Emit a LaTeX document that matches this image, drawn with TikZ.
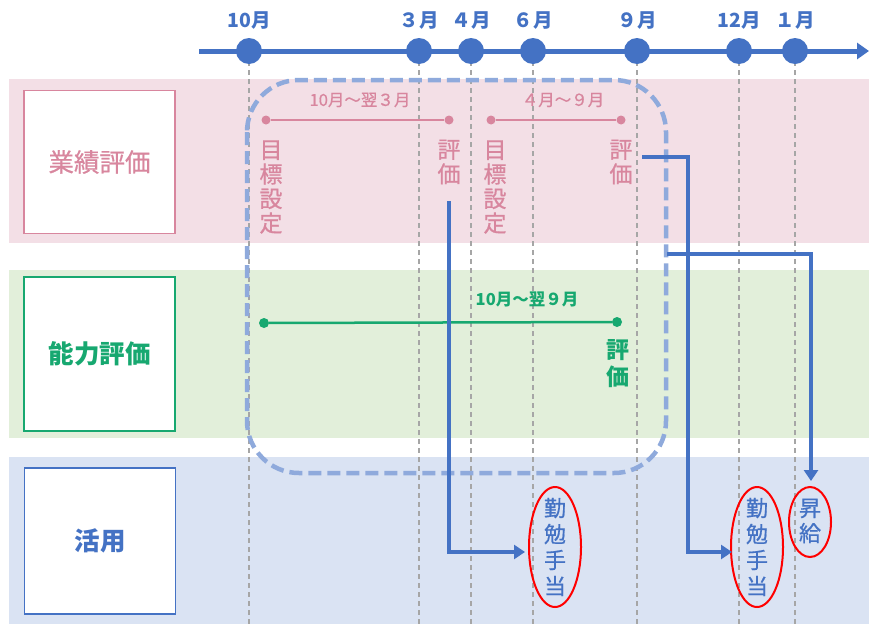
\documentclass[tikz,border=0pt]{standalone}
\usepackage{fontspec}
\setmainfont{Noto Sans CJK JP}
\newfontfamily\jpm{Noto Sans CJK JP}[FakeBold=0.7]
\usetikzlibrary{arrows.meta,shapes.geometric}
\definecolor{tblue}{HTML}{4472C4}
\definecolor{lblue}{HTML}{8FAADC}
\definecolor{pinkc}{HTML}{D8869E}
\definecolor{pinkband}{HTML}{F3DFE6}
\definecolor{greenc}{HTML}{17A870}
\definecolor{greenband}{HTML}{E2EFDA}
\definecolor{blueband}{HTML}{DAE3F3}
\definecolor{gridgray}{HTML}{A6A6A6}
\begin{document}
\begin{tikzpicture}[x=1pt,y=-1pt,
  month/.style={font=\fontsize{19.5}{22}\selectfont\bfseries, text=tblue, inner sep=0pt},
  mdot/.style={circle, fill=tblue, minimum size=26pt, inner sep=0pt},
  gridline/.style={draw=gridgray, line width=1.1pt, dash pattern=on 5pt off 4pt},
  lbox/.style={draw, fill=white, line width=1.8pt, minimum width=151pt, minimum height=143pt, inner sep=0pt, font=\jpm\fontsize{25.5}{28}\selectfont},
  vtext/.style={align=center, inner sep=0pt, font=\jpm\fontsize{23}{24.5}\selectfont},
  rangelab/.style={inner sep=0pt, font=\jpm\fontsize{16.5}{19}\selectfont},
  pdot/.style={circle, fill=pinkc, minimum size=9pt, inner sep=0pt},
  gdot/.style={circle, fill=greenc, minimum size=10pt, inner sep=0pt},
  conn/.style={draw=tblue, line width=4.2pt, miter limit=10, -{Triangle[length=11pt,width=14pt]}},
  redell/.style={ellipse, draw=red, line width=2pt, inner sep=0pt}
]
\useasboundingbox (0,0) rectangle (869,624);
\fill[white] (0,0) rectangle (869,624);
% bands
\fill[pinkband] (9,79) rectangle (869,243);
\fill[greenband] (9,270) rectangle (869,438);
\fill[blueband] (9,457) rectangle (869,624);
% left boxes
\node[lbox, draw=pinkc, text=pinkc] (b1) at (99.5,162) {業績評価};
\node[lbox, draw=greenc, text=greenc, minimum height=154pt, font=\fontsize{25.5}{28}\selectfont\bfseries] (b2) at (99.5,354) {能力評価};
\node[lbox, draw=tblue, text=tblue, minimum height=146pt, font=\fontsize{25.5}{28}\selectfont\bfseries] (b3) at (100,541) {活用};
% grid lines
\foreach \x in {249,419,471,533,637,739,795} {
  \draw[gridline] (\x,52) -- (\x,624);
}
% dashed rounded frame
\draw[lblue, line width=4.5pt, dash pattern=on 13pt off 6pt, rounded corners=52pt] (247,80) rectangle (666,473);
% performance row
\node[pdot] (p1a) at (266,120) {};
\node[pdot] (p1b) at (449,120) {};
\draw[pinkc, line width=2.5pt] (p1a) -- (p1b);
\node[rangelab, text=pinkc] (r1) at (360,100) {10月～翌３月};
\node[pdot] (p2a) at (491,120) {};
\node[pdot] (p2b) at (621,120) {};
\draw[pinkc, line width=2.5pt] (p2a) -- (p2b);
\node[rangelab, text=pinkc] (r2) at (563,100) {４月～９月};
\node[vtext, text=pinkc] (gs1) at (271,187) {目\\標\\設\\定};
\node[vtext, text=pinkc] (ev3) at (449,162) {評\\価};
\node[vtext, text=pinkc] (gs2) at (495,187) {目\\標\\設\\定};
\node[vtext, text=pinkc] (ev9) at (621,162) {評\\価};
% ability row
\node[gdot] (g1a) at (264,323) {};
\node[gdot] (g1b) at (617,322) {};
\draw[greenc, line width=2.5pt] (g1a) -- (g1b);
\node[rangelab, text=greenc, font=\fontsize{16.5}{19}\selectfont\bfseries] (r3) at (527,299) {10月～翌９月};
\node[vtext, text=greenc, font=\fontsize{23}{27}\selectfont\bfseries] (eva) at (618,364) {評\\価};
% use row
\node[vtext, text=tblue, font=\jpm\fontsize{22}{26}\selectfont] (k1) at (555,547) {勤\\勉\\手\\当};
\node[vtext, text=tblue, font=\jpm\fontsize{22}{26}\selectfont] (k2) at (757,547) {勤\\勉\\手\\当};
\node[vtext, text=tblue, font=\jpm\fontsize{22}{25}\selectfont] (sk) at (810,521) {昇\\給};
\node[redell, minimum width=52pt, minimum height=120pt] (e1) at (555,547) {};
\node[redell, minimum width=52pt, minimum height=120pt] (e2) at (757,547) {};
\node[redell, minimum width=42pt, minimum height=70pt] (e3) at (810,522) {};
% connectors
\coordinate (c1s) at (449,201);
\coordinate (c1e) at (525,552);
\draw[conn] (c1s) |- (c1e);
\coordinate (c2s) at (642,157);
\coordinate (c2a) at (688,157);
\coordinate (c2e) at (732,552);
\draw[conn] (c2s) -- (c2a) |- (c2e);
\coordinate (c3s) at (667,254);
\coordinate (c3e) at (811,481);
\draw[conn] (c3s) -| (c3e);
% timeline
\coordinate (tl0) at (199,51);
\coordinate (tl1) at (869,51);
\draw[tblue, line width=5pt, -{Triangle[length=12pt,width=16pt]}] (tl0) -- (tl1);
\foreach \x/\n/\t in {249/m10/10月, 419/m3/３月, 471/m4/４月, 533/m6/６月, 637/m9/９月, 739/m12/12月, 795/m1/１月} {
  \node[mdot] (\n) at (\x,51) {};
  \node[month] (\n l) at (\x,21) {\t};
}
\end{tikzpicture}
\end{document}
